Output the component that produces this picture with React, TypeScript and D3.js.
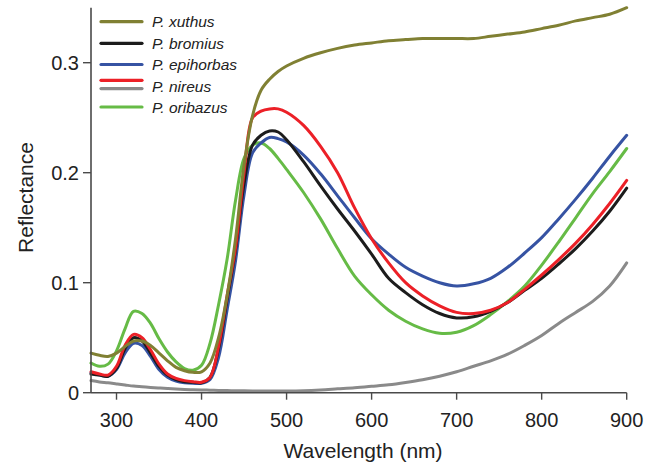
import React from "react";
import * as d3 from "d3";

const wavelengths = [270, 280, 290, 300, 310, 320, 330, 340, 350, 360, 370, 380, 390, 400, 410, 420, 430, 440, 450, 460, 470, 480, 490, 500, 520, 540, 560, 580, 600, 620, 640, 660, 680, 700, 720, 740, 760, 780, 800, 820, 840, 860, 880, 900];

const xuthus = [0.036, 0.034, 0.033, 0.036, 0.042, 0.047, 0.047, 0.043, 0.036, 0.029, 0.023, 0.020, 0.0185, 0.019, 0.027, 0.050, 0.088, 0.140, 0.207, 0.252, 0.275, 0.285, 0.292, 0.297, 0.304, 0.309, 0.313, 0.316, 0.318, 0.320, 0.321, 0.322, 0.322, 0.322, 0.322, 0.324, 0.326, 0.328, 0.331, 0.334, 0.338, 0.341, 0.344, 0.350];
const bromius = [0.017, 0.016, 0.015, 0.022, 0.040, 0.050, 0.047, 0.036, 0.024, 0.016, 0.012, 0.010, 0.0095, 0.009, 0.014, 0.040, 0.085, 0.130, 0.190, 0.225, 0.234, 0.238, 0.237, 0.230, 0.210, 0.188, 0.167, 0.147, 0.126, 0.104, 0.091, 0.080, 0.072, 0.068, 0.069, 0.074, 0.082, 0.093, 0.104, 0.117, 0.131, 0.147, 0.165, 0.186];
const epihorbas = [0.018, 0.016, 0.015, 0.021, 0.036, 0.045, 0.043, 0.033, 0.021, 0.014, 0.0105, 0.009, 0.0085, 0.0085, 0.012, 0.032, 0.075, 0.120, 0.180, 0.218, 0.227, 0.232, 0.231, 0.228, 0.216, 0.199, 0.179, 0.159, 0.140, 0.126, 0.114, 0.106, 0.100, 0.097, 0.099, 0.104, 0.114, 0.127, 0.141, 0.158, 0.176, 0.195, 0.215, 0.234];
const nireus = [0.019, 0.017, 0.016, 0.024, 0.043, 0.053, 0.050, 0.039, 0.026, 0.017, 0.013, 0.011, 0.010, 0.0095, 0.014, 0.042, 0.088, 0.132, 0.200, 0.250, 0.256, 0.258, 0.258, 0.255, 0.243, 0.224, 0.200, 0.168, 0.140, 0.118, 0.100, 0.088, 0.079, 0.073, 0.072, 0.075, 0.082, 0.094, 0.107, 0.121, 0.136, 0.153, 0.172, 0.193];
const grayRef = [0.011, 0.0098, 0.009, 0.008, 0.007, 0.006, 0.0054, 0.0048, 0.0043, 0.0038, 0.0034, 0.003, 0.0027, 0.0025, 0.0023, 0.002, 0.0019, 0.0018, 0.0017, 0.0016, 0.0015, 0.0015, 0.0015, 0.0015, 0.0018, 0.0025, 0.0035, 0.0045, 0.0058, 0.0072, 0.0093, 0.0118, 0.015, 0.019, 0.024, 0.029, 0.035, 0.043, 0.052, 0.063, 0.073, 0.083, 0.097, 0.118];
const oribazus = [0.027, 0.024, 0.026, 0.038, 0.058, 0.074, 0.072, 0.063, 0.049, 0.037, 0.028, 0.022, 0.0205, 0.025, 0.045, 0.080, 0.121, 0.175, 0.213, 0.225, 0.227, 0.222, 0.213, 0.203, 0.182, 0.158, 0.131, 0.106, 0.089, 0.075, 0.065, 0.058, 0.054, 0.055, 0.061, 0.071, 0.083, 0.097, 0.116, 0.137, 0.159, 0.181, 0.201, 0.222];

const xTicks = [300, 400, 500, 600, 700, 800, 900];
const yTicks = [0, 0.1, 0.2, 0.3];
const yTickLabels = ["0", "0.1", "0.2", "0.3"];

const series = [
  { name: "", values: grayRef, color: "#8a8a8a" },
  { name: "P. oribazus", values: oribazus, color: "#66bb46" },
  { name: "P. epihorbas", values: epihorbas, color: "#3653a3" },
  { name: "P. bromius", values: bromius, color: "#1c1c1c" },
  { name: "P. nireus", values: nireus, color: "#ec2027" },
  { name: "P. xuthus", values: xuthus, color: "#808033" },
];

const legendItems = [
  { label: "P. xuthus", color: "#808033", lineY: 21.7, textY: 27.3 },
  { label: "P. bromius", color: "#1c1c1c", lineY: 43.3, textY: 49 },
  { label: "P. epihorbas", color: "#3653a3", lineY: 64.5, textY: 70 },
  { label: "P. nireus", color: "#ec2027", lineY: 80.3, textY: 91.5 },
  { label: "", color: "#8a8a8a", lineY: 88.6, textY: 91.5 },
  { label: "P. oribazus", color: "#66bb46", lineY: 107, textY: 113 },
];

export default function App() {
  const W = 659, H = 463;
  const x = d3.scaleLinear().domain([270, 900]).range([91, 626.7]);
  const y = d3.scaleLinear().domain([0, 0.35]).range([392.7, 7.7]);
  const line = d3
    .line<number>()
    .x((_, i) => x(wavelengths[i]))
    .y((d) => y(d))
    .curve(d3.curveCatmullRom.alpha(0.5));
  const axisColor = "#4a4a4a";
  const font = "Liberation Sans, Arial, Helvetica, sans-serif";
  return (
    <svg width={W} height={H} style={{ position: "absolute", left: 0, top: 0, background: "#fff" }} fontFamily={font}>
      {series.map((s, i) => (
        <path key={i} d={line(s.values) || ""} fill="none" stroke={s.color} strokeWidth={3} strokeLinejoin="round" strokeLinecap="round" />
      ))}
      <line x1={x(270)} x2={x(270)} y1={y(0.35)} y2={y(0)} stroke={axisColor} strokeWidth={1.6} />
      <line x1={x(270)} x2={x(900)} y1={y(0)} y2={y(0)} stroke={axisColor} strokeWidth={1.6} />
      {yTicks.map((t, i) => (
        <g key={i}>
          <line x1={x(270) - 8} x2={x(270)} y1={y(t)} y2={y(t)} stroke={axisColor} strokeWidth={1.4} />
          <text x={x(270) - 12} y={y(t)} dy="0.35em" textAnchor="end" fontSize={20} fill="#222">{yTickLabels[i]}</text>
        </g>
      ))}
      {xTicks.map((t, i) => (
        <g key={i}>
          <line x1={x(t)} x2={x(t)} y1={y(0)} y2={y(0) + 7} stroke={axisColor} strokeWidth={1.4} />
          <text x={x(t)} y={426.7} textAnchor="middle" fontSize={20} fill="#222">{t}</text>
        </g>
      ))}
      <text x={363} y={458} textAnchor="middle" fontSize={21} fill="#222">Wavelength (nm)</text>
      <text transform="translate(33,197.5) rotate(-90)" textAnchor="middle" fontSize={21} fill="#222">Reflectance</text>
      {legendItems.map((l, i) => (
        <g key={i}>
          <line x1={101} x2={142} y1={l.lineY} y2={l.lineY} stroke={l.color} strokeWidth={3.2} strokeLinecap="round" />
          {l.label && (
            <text x={152} y={l.textY} fontSize={15.5} fontStyle="italic" fill="#222">{l.label}</text>
          )}
        </g>
      ))}
    </svg>
  );
}
